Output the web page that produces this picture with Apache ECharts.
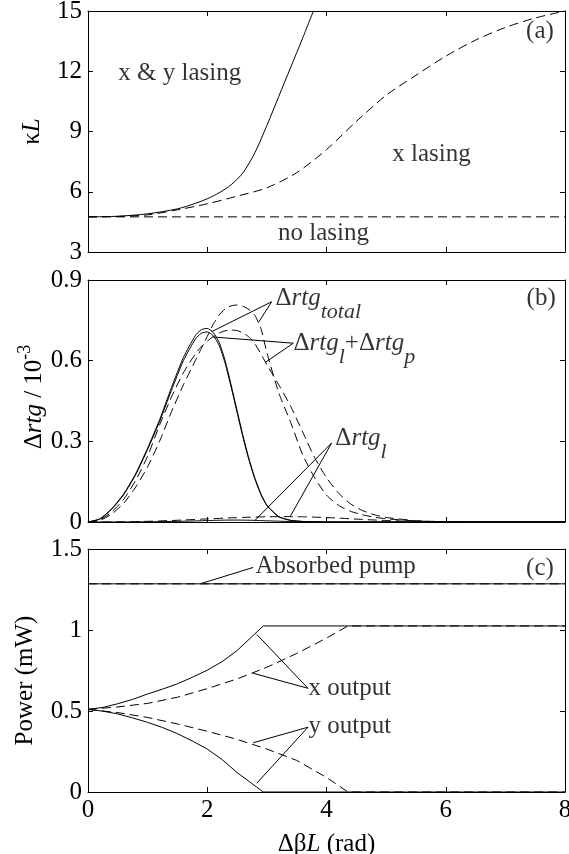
<!DOCTYPE html>
<html>
<head>
<meta charset="utf-8">
<script src="https://cdn.jsdelivr.net/npm/echarts@6/dist/echarts.min.js"></script>
<style>
  html, body { margin: 0; padding: 0; background: #fff; }
  #chart { width: 569px; height: 854px; }
</style>
</head>
<body>
<div id="chart"></div>
<script>
// ---------- shared x axis: detuning ΔβL (rad) ----------
const xTicks = [0, 2, 4, 6, 8];

// ---------- panel (a): threshold coupling κL ----------
const aTicks = [3, 6, 9, 12, 15];
const aBothX = [0, 0.5, 1, 1.5, 1.8, 2, 2.2, 2.4, 2.6, 2.8, 3, 3.2, 3.4, 3.6, 3.78];
const aBothKappa = [4.75, 4.78, 4.9, 5.15, 5.42, 5.65, 5.95, 6.35, 6.95, 7.95, 9.3, 10.75, 12.2, 13.65, 15];
const aXOnlyX = [0, 0.5, 1, 1.5, 2, 2.5, 3, 3.5, 4, 4.5, 5, 5.5, 6, 6.5, 7, 7.5, 8];
const aXOnlyKappa = [4.75, 4.77, 4.85, 5.1, 5.4, 5.78, 6.2, 6.95, 8.1, 9.5, 10.8, 11.8, 12.75, 13.55, 14.18, 14.65, 15.0];
const aNoneX = [0, 8];
const aNoneKappa = [4.75, 4.75];

// ---------- panel (b): round-trip gain differences (×10^-3) ----------
const bTicks = [0, 0.3, 0.6, 0.9];
const bX = [0, 0.2, 0.4, 0.6, 0.8, 1.0, 1.2, 1.4, 1.6, 1.8, 1.9, 2.0, 2.1, 2.2, 2.3, 2.4, 2.5, 2.6, 2.7, 2.8,
            2.9, 3.0, 3.2, 3.4, 3.6, 3.8, 4.0, 4.2, 4.4, 4.6, 4.8, 5.0, 5.5, 6.0, 7.0, 8.0];
const bTotalSolid = [0, 0.012, 0.05, 0.105, 0.18, 0.275, 0.38, 0.50, 0.612, 0.693, 0.715, 0.72, 0.705, 0.668, 0.60, 0.51,
                     0.415, 0.32, 0.235, 0.163, 0.105, 0.063, 0.02, 0.006, 0.002, 0.0005, 0, 0, 0, 0, 0, 0, 0, 0, 0, 0];
const bLPSolid = [0, 0.011, 0.048, 0.102, 0.176, 0.27, 0.373, 0.49, 0.60, 0.68, 0.702, 0.707, 0.693, 0.657, 0.59, 0.502,
                  0.408, 0.314, 0.23, 0.159, 0.102, 0.061, 0.019, 0.006, 0.002, 0.0005, 0, 0, 0, 0, 0, 0, 0, 0, 0, 0];
const bTotalDash = [0, 0.006, 0.03, 0.07, 0.13, 0.205, 0.30, 0.41, 0.51, 0.60, 0.645, 0.69, 0.735, 0.77, 0.792, 0.804,
                    0.807, 0.802, 0.79, 0.768, 0.72, 0.63, 0.48, 0.37, 0.25, 0.165, 0.10, 0.062, 0.04, 0.027, 0.018,
                    0.012, 0.004, 0.001, 0, 0];
const bLPDash = [0, 0.008, 0.038, 0.085, 0.155, 0.245, 0.36, 0.465, 0.555, 0.625, 0.652, 0.672, 0.69, 0.703, 0.711, 0.714,
                 0.712, 0.703, 0.688, 0.662, 0.625, 0.585, 0.51, 0.43, 0.335, 0.24, 0.165, 0.108, 0.068, 0.043, 0.027,
                 0.017, 0.005, 0.001, 0, 0];
const bLossDash = [0, 0, 0.0003, 0.0008, 0.0015, 0.0025, 0.004, 0.0055, 0.0075, 0.0095, 0.0105, 0.0115, 0.0125, 0.0135,
                   0.0145, 0.0155, 0.016, 0.017, 0.0178, 0.0185, 0.019, 0.0195, 0.02, 0.02, 0.0195, 0.018, 0.0165,
                   0.0145, 0.012, 0.0095, 0.0075, 0.0055, 0.002, 0.0006, 0, 0];
const bLossSolid = [0, 0, 0.0001, 0.0003, 0.0005, 0.0008, 0.0013, 0.002, 0.003, 0.004, 0.0047, 0.0053, 0.006, 0.0065,
                    0.007, 0.0072, 0.0072, 0.007, 0.0066, 0.006, 0.0052, 0.0044, 0.003, 0.0018, 0.001, 0.0005, 0.0002,
                    0, 0, 0, 0, 0, 0, 0, 0, 0];

// ---------- panel (c): pump and output powers (mW) ----------
const cTicks = [0, 0.5, 1, 1.5];
const cPumpX = [0, 8];
const cPump = [1.285, 1.285];
const cSolidX = [0, 0.25, 0.5, 0.75, 1, 1.25, 1.5, 1.75, 2, 2.25, 2.5, 2.94, 8];
const cXOutSolid = [0.51, 0.522, 0.545, 0.572, 0.605, 0.635, 0.668, 0.708, 0.752, 0.805, 0.873, 1.025, 1.025];
const cYOutSolid = [0.51, 0.499, 0.482, 0.457, 0.43, 0.398, 0.36, 0.315, 0.265, 0.2, 0.12, 0, 0];
const cDashX = [0, 0.5, 1, 1.5, 2, 2.5, 3, 3.5, 4, 4.36, 8];
const cXOutDash = [0.51, 0.525, 0.547, 0.585, 0.638, 0.698, 0.77, 0.855, 0.95, 1.025, 1.025];
const cYOutDash = [0.51, 0.49, 0.46, 0.42, 0.375, 0.325, 0.265, 0.195, 0.09, 0, 0];

// ---------- annotation texts and leader lines (data coordinates) ----------
const aTexts = [
  { text: 'x & y lasing', x: 1.54, y: 11.9 },
  { text: 'x lasing', x: 5.76, y: 7.87 },
  { text: 'no lasing', x: 3.95, y: 3.93 },
  { text: '(a)', x: 7.58, y: 14.0 }
];
const bTexts = [
  { text: '{n|Δ}{i|rtg}{sub|total}', x: 3.136, y: 0.830 },
  { text: '{n|Δ}{i|rtg}{sub|l}{n|+Δ}{i|rtg}{sub|p}', x: 3.438, y: 0.663 },
  { text: '{n|Δ}{i|rtg}{sub|l}', x: 4.14, y: 0.310 }
];
const bTag = [{ text: '(b)', x: 7.6, y: 0.833 }];
const bLeaders = [
  [[2.075, 0.708], [3.08, 0.819], [2.856, 0.741]],
  [[2.096, 0.688], [3.443, 0.665], [2.969, 0.593]],
  [[2.80, 0.006], [4.087, 0.294], [3.39, 0.02]]
];
const cTexts = [
  { text: 'Absorbed pump', x: 2.80, y: 1.391 },
  { text: 'x output', x: 3.69, y: 0.64 },
  { text: 'y output', x: 3.69, y: 0.403 }
];
const cTag = [{ text: '(c)', x: 7.58, y: 1.379 }];
const cLeaders = [
  [[1.907, 1.288], [2.77, 1.386]],
  [[2.77, 0.733], [3.69, 0.64], [2.83, 0.973]],
  [[2.77, 0.304], [3.69, 0.40], [2.83, 0.054]]
];

// ---------- styling ----------
const FONT = '"Liberation Serif", "Times New Roman", Times, serif';
const INK = '#000';
const DASH = [9, 5];
const FS = 25;

const RICH = {
  n:   { fontFamily: FONT, fontSize: FS, color: INK, lineHeight: 30 },
  i:   { fontFamily: FONT, fontSize: FS, fontStyle: 'italic', color: INK, lineHeight: 30 },
  sub: { fontFamily: FONT, fontSize: 22, fontStyle: 'italic', color: INK, lineHeight: 30, padding: [27, 0, 0, 0] },
  sup: { fontFamily: FONT, fontSize: 18, color: INK, lineHeight: 30, padding: [0, 0, 18, 0] }
};

const GRID_TOP = [11, 280, 549];
const GRID_H = [241, 242, 243];

const zip = (xs, ys) => xs.map((x, i) => [x, ys[i]]);

function curve(g, xs, ys, dashed, smooth) {
  return {
    type: 'line', xAxisIndex: g, yAxisIndex: g, data: zip(xs, ys),
    symbol: 'none', showSymbol: false, smooth: smooth || false, silent: true,
    lineStyle: { color: INK, width: 1, type: dashed ? DASH : 'solid' }, z: 3
  };
}

function leader(g, pts) {
  return {
    type: 'line', xAxisIndex: g, yAxisIndex: g, data: pts,
    symbol: 'none', showSymbol: false, silent: true,
    lineStyle: { color: INK, width: 1 }, z: 4
  };
}

function texts(g, items, position) {
  return {
    type: 'scatter', xAxisIndex: g, yAxisIndex: g, symbolSize: 1, silent: true,
    itemStyle: { color: 'rgba(0,0,0,0)' }, z: 5,
    data: items.map(t => ({ value: [t.x, t.y], label: { formatter: t.text } })),
    label: {
      show: true, position: position, distance: 0, color: INK,
      fontFamily: FONT, fontSize: FS, textBorderWidth: 0, rich: RICH
    }
  };
}

const tickStyle = { show: true, inside: true, length: 5, lineStyle: { color: INK, width: 1 } };
const lineStyle = { show: true, onZero: false, lineStyle: { color: INK, width: 1 } };

function xAxis(g, position, showLabels) {
  const ax = {
    type: 'value', gridIndex: g, position: position,
    min: xTicks[0], max: xTicks[xTicks.length - 1], interval: xTicks[1] - xTicks[0],
    axisLine: lineStyle, axisTick: tickStyle, splitLine: { show: false },
    axisLabel: { show: showLabels, color: INK, fontFamily: FONT, fontSize: FS, margin: 6 }
  };
  if (showLabels) {
    ax.name = '{n|Δβ}{i|L}{n| (rad)}';
    ax.nameLocation = 'middle';
    ax.nameGap = 37;
    ax.nameMoveOverlap = false;
    ax.nameTextStyle = { rich: RICH };
  }
  return ax;
}

function yAxis(g, position, ticks, name, gap, pad) {
  const ax = {
    type: 'value', gridIndex: g, position: position,
    min: ticks[0], max: ticks[ticks.length - 1], interval: ticks[1] - ticks[0],
    axisLine: lineStyle, axisTick: tickStyle, splitLine: { show: false },
    axisLabel: { show: position === 'left', color: INK, fontFamily: FONT, fontSize: FS, margin: 6 }
  };
  if (name) {
    ax.name = name;
    ax.nameLocation = 'middle';
    ax.nameGap = gap;
    ax.nameMoveOverlap = false;
    ax.nameTextStyle = { rich: RICH, padding: pad || 0 };
  }
  return ax;
}

const chart = echarts.init(document.getElementById('chart'), null, { renderer: 'canvas' });

chart.setOption({
  animation: false,
  backgroundColor: '#fff',
  grid: GRID_TOP.map((top, i) => ({
    left: 88, right: 4, top: top, height: GRID_H[i],
    containLabel: false, outerBoundsMode: 'none'
  })),
  xAxis: [
    xAxis(0, 'bottom', false), xAxis(1, 'bottom', false), xAxis(2, 'bottom', true),
    xAxis(0, 'top', false), xAxis(1, 'top', false), xAxis(2, 'top', false)
  ],
  yAxis: [
    yAxis(0, 'left', aTicks, '{n|κ}{i|L}', 41),
    yAxis(1, 'left', bTicks, '{n|Δ}{i|rtg}{n| / 10}{sup|-3}', 39, [0, 0, 0, 8]),
    yAxis(2, 'left', cTicks, '{n|Power (mW)}', 48, [0, 20, 0, 0]),
    yAxis(0, 'right', aTicks), yAxis(1, 'right', bTicks), yAxis(2, 'right', cTicks)
  ],
  series: [
    // (a)
    curve(0, aBothX, aBothKappa, false, 0.3),
    curve(0, aXOnlyX, aXOnlyKappa, true, 0.3),
    curve(0, aNoneX, aNoneKappa, true),
    texts(0, aTexts, 'inside'),
    // (b)
    curve(1, bX, bTotalSolid, false, 0.2),
    curve(1, bX, bLPSolid, false, 0.2),
    curve(1, bX, bTotalDash, true, 0.2),
    curve(1, bX, bLPDash, true, 0.2),
    curve(1, bX, bLossDash, true, 0.2),
    curve(1, bX, bLossSolid, false, 0.2),
    ...bLeaders.map(p => leader(1, p)),
    texts(1, bTexts, 'right'),
    texts(1, bTag, 'inside'),
    // (c)
    curve(2, cPumpX, cPump, false),
    curve(2, cPumpX, cPump, true),
    curve(2, cSolidX, cXOutSolid, false),
    curve(2, cSolidX, cYOutSolid, false),
    curve(2, cDashX, cXOutDash, true),
    curve(2, cDashX, cYOutDash, true),
    ...cLeaders.map(p => leader(2, p)),
    texts(2, cTexts, 'right'),
    texts(2, cTag, 'inside')
  ]
});
</script>
</body>
</html>
